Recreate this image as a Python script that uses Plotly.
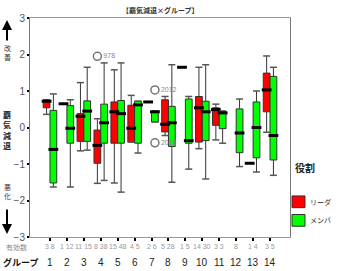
import plotly.graph_objects as go

groups = list(range(1, 15))
counts = ["3 8", "1 12", "11 15", "8 38", "15 48", "4 5", "2 6", "5 28",
          "1 5", "14 30", "3 3", "8", "1 4", "3 5"]

# leader (リーダ) – no data for group 12
lead_groups = [1, 2, 3, 4, 5, 6, 7, 8, 9, 10, 11, 13, 14]
lead_q1 = [0.54, 0.65, -0.38, -0.98, -0.43, -0.40, 0.70, -0.12, 1.65, -0.40, 0.06, -0.98, 0.43]
lead_med = [0.72, 0.65, 0.31, -0.49, 0.43, -0.02, 0.70, 0.09, 1.65, 0.54, 0.49, -0.98, 1.03]
lead_q3 = [0.76, 0.65, 0.38, -0.07, 0.70, 0.61, 0.70, 0.76, 1.65, 0.85, 0.54, -0.98, 1.49]
lead_lo = [0.36, 0.65, -0.64, -1.53, -1.52, -0.40, 0.70, -0.22, 1.65, -0.58, -0.34, -0.98, -0.13]
lead_hi = [0.76, 0.65, 1.23, 0.24, 1.58, 0.88, 0.70, 0.85, 1.65, 1.65, 0.64, -0.98, 1.96]

# member (メンバ)
mem_groups = list(range(1, 15))
mem_q1 = [-1.52, -0.43, -0.38, -0.43, -0.43, -0.43, 0.15, -0.52, -0.43, -0.36, -0.03, -0.69, -0.83, -0.89]
mem_med = [-0.60, -0.02, 0.45, 0.13, 0.38, 0.62, 0.43, 0.13, -0.36, 0.43, 0.40, -0.15, 0.00, -0.22]
mem_q3 = [0.47, 0.60, 0.73, 0.64, 0.74, 0.72, 0.45, 0.58, 0.78, 0.72, 0.45, 0.51, 0.70, 1.40]
mem_lo = [-1.63, -1.63, -0.62, -1.45, -1.77, -0.70, 0.15, -1.50, -1.14, -1.41, -0.43, -1.07, -1.22, -1.31]
mem_hi = [0.92, 0.76, 1.65, 1.77, 1.77, 0.72, 0.45, 1.72, 0.85, 1.72, 0.45, 0.78, 1.00, 1.65]

# outliers
out_role = ["lead", "mem", "mem"]
out_group = [4, 7, 7]
out_val = [1.95, 1.03, -0.42]
out_label = ["978", "2012", "2018"]

OFF = 0.2
BW = 0.4
RED = "#FF0000"
GREEN = "#00FF00"
JP = "Noto Sans CJK JP"
LAT = "Liberation Sans"

fig = go.Figure()

def add_role(gs, q1, med, q3, lo, hi, color, name, sign):
    xs = [g + sign * OFF for g in gs]
    fig.add_trace(go.Box(
        x=xs, q1=q1, median=med, q3=q3, lowerfence=lo, upperfence=hi,
        width=BW, fillcolor=color, line=dict(color="#333333", width=1),
        whiskerwidth=0, name=name, showlegend=False, hoverinfo="skip"))
    # whisker caps
    fig.add_trace(go.Scatter(
        x=xs + xs, y=lo + hi, mode="markers", showlegend=False, hoverinfo="skip",
        marker=dict(symbol="line-ew", size=5, line=dict(color="#555555", width=1.5))))
    # thick medians
    fig.add_trace(go.Scatter(
        x=xs, y=med, mode="markers", showlegend=False, hoverinfo="skip",
        marker=dict(symbol="line-ew", size=7, line=dict(color="black", width=3))))

add_role(lead_groups, lead_q1, lead_med, lead_q3, lead_lo, lead_hi, RED, "リーダ", -1)
add_role(mem_groups, mem_q1, mem_med, mem_q3, mem_lo, mem_hi, GREEN, "メンバ", +1)

ox = [g + (-OFF if r == "lead" else OFF) for g, r in zip(out_group, out_role)]
fig.add_trace(go.Scatter(
    x=ox, y=out_val, mode="markers+text", text=out_label, textposition="middle right",
    textfont=dict(family=LAT, size=7, color="#888888"), showlegend=False, hoverinfo="skip",
    marker=dict(symbol="circle-open", size=8, color="#777777", line=dict(width=1.5))))

fig.update_layout(
    width=347, height=271,
    margin=dict(l=30, r=57, t=13, b=34),
    paper_bgcolor="white", plot_bgcolor="white",
    showlegend=False,
    xaxis=dict(range=[-0.18, 15.18], tickvals=groups, showticklabels=False,
               ticks="outside", ticklen=3, tickwidth=2, tickcolor="black",
               showgrid=False, zeroline=False, showline=True, linecolor="#999999",
               linewidth=1, mirror=True),
    yaxis=dict(range=[-3, 3], tickvals=[-3, -2, -1, 0, 1, 2, 3],
               ticks="outside", ticklen=2, tickwidth=2, tickcolor="black",
               tickfont=dict(family=LAT, size=10, color="#555555"),
               showgrid=False, zeroline=False, showline=True, linecolor="#777777",
               linewidth=1, mirror=True),
)

def py(p):  # pixel y -> paper
    return (237 - p) / 224.0
def px(p):
    return (p - 30) / 260.0

ann = []
# title
ann.append(dict(text="<b>【覇気減退×グループ】</b>", x=0.5, y=1.0, xref="paper", yref="paper",
                xanchor="center", yanchor="bottom", yshift=1, showarrow=False,
                font=dict(family=JP, size=7, color="#333333")))
# counts and group numbers
for g, c in zip(groups, counts):
    ann.append(dict(text=c, x=g, y=0, xref="x", yref="paper", yshift=-9, xanchor="center",
                    yanchor="middle", showarrow=False,
                    font=dict(family=LAT, size=7, color="#999999")))
    ann.append(dict(text=str(g), x=g, y=0, xref="x", yref="paper", yshift=-25, xanchor="center",
                    yanchor="middle", showarrow=False,
                    font=dict(family=LAT, size=10, color="#222222")))
ann.append(dict(text="有効数", x=-0.005, y=0, xref="paper", yref="paper", yshift=-10,
                xanchor="right", yanchor="middle", showarrow=False,
                font=dict(family=JP, size=7, color="#888888")))
ann.append(dict(text="<b>グループ</b>", x=px(1), y=0, xref="paper", yref="paper", yshift=-25,
                xanchor="left", yanchor="middle", showarrow=False,
                font=dict(family=JP, size=9, color="#111111")))
# left side labels and arrows
ann.append(dict(text="", x=px(7), y=py(15), xref="paper", yref="paper", showarrow=True,
                ax=0, ay=22, arrowhead=2, arrowsize=1, arrowwidth=2, arrowcolor="black"))
ann.append(dict(text="", x=px(7), y=py(234), xref="paper", yref="paper", showarrow=True,
                ax=0, ay=-26, arrowhead=2, arrowsize=1, arrowwidth=2, arrowcolor="black"))
ann.append(dict(text="改<br>善", x=px(7), y=py(48), xref="paper", yref="paper", showarrow=False,
                xanchor="center", yanchor="middle", font=dict(family=JP, size=7, color="#333333")))
ann.append(dict(text="<b>覇<br>気<br>減<br>退</b>", x=px(7), y=py(128), xref="paper", yref="paper",
                showarrow=False, xanchor="center", yanchor="middle",
                font=dict(family=JP, size=8, color="#222222")))
ann.append(dict(text="悪<br>化", x=px(7), y=py(190), xref="paper", yref="paper", showarrow=False,
                xanchor="center", yanchor="middle", font=dict(family=JP, size=7, color="#333333")))
# legend
ann.append(dict(text="<b>役割</b>", x=px(293), y=py(166), xref="paper", yref="paper",
                showarrow=False, xanchor="left", yanchor="middle",
                font=dict(family=JP, size=10, color="#222222")))
ann.append(dict(text="リーダ", x=px(308), y=py(201), xref="paper", yref="paper",
                showarrow=False, xanchor="left", yanchor="middle",
                font=dict(family=JP, size=7, color="#222222")))
ann.append(dict(text="メンバ", x=px(308), y=py(220), xref="paper", yref="paper",
                showarrow=False, xanchor="left", yanchor="middle",
                font=dict(family=JP, size=7, color="#222222")))
shapes = [
    dict(type="rect", xref="paper", yref="paper", x0=px(292), x1=px(305), y0=py(207), y1=py(195),
         fillcolor=RED, line=dict(color="#333333", width=1)),
    dict(type="rect", xref="paper", yref="paper", x0=px(292), x1=px(305), y0=py(226), y1=py(214),
         fillcolor=GREEN, line=dict(color="#333333", width=1)),
]
fig.update_layout(annotations=ann, shapes=shapes)

fig.write_html("out.html")
